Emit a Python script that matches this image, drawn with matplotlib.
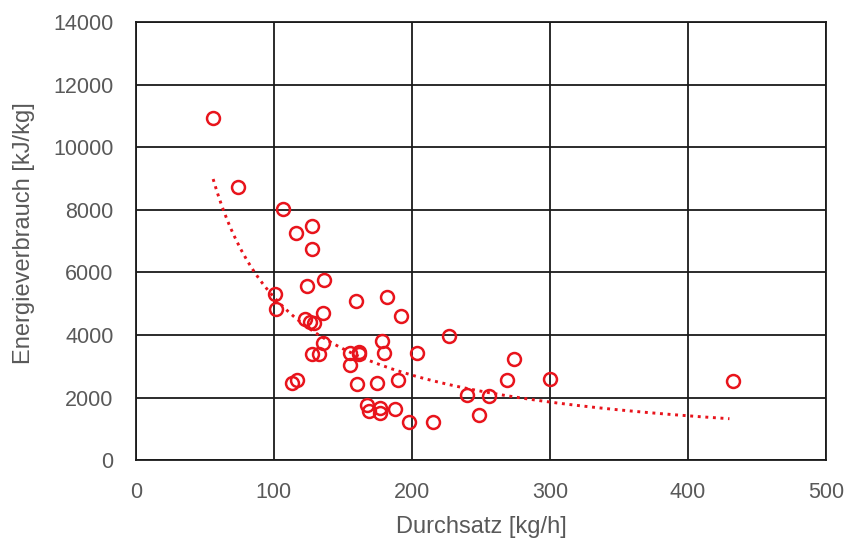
import numpy as np
from matplotlib import pyplot as plt

plt.rcParams['font.family'] = ['Liberation Sans', 'DejaVu Sans']

# Durchsatz [kg/h]
durchsatz = [56.0, 74.1, 106.3, 115.7, 127.8, 127.8, 136.4, 123.7, 100.9, 159.4,
             181.9, 101.4, 135.7, 192.2, 122.5, 126.1, 129.0, 135.5, 178.0, 226.8,
             127.8, 132.6, 155.1, 161.8, 161.4, 179.9, 203.4, 273.7, 155.1, 112.8,
             116.9, 160.4, 174.9, 189.6, 268.6, 239.6, 256.0, 167.2, 168.8, 176.8,
             176.8, 187.9, 197.8, 215.2, 248.8, 300.0, 432.8]
# Energieverbrauch [kJ/kg]
energie = [10930, 8735, 8022, 7255, 7488, 6766, 5775, 5570, 5296, 5091,
           5219, 4826, 4720, 4593, 4497, 4420, 4380, 3749, 3794, 3963,
           3388, 3388, 3429, 3461, 3388, 3429, 3420, 3237, 3036, 2470,
           2557, 2438, 2470, 2557, 2557, 2068, 2036, 1758, 1566, 1652,
           1512, 1620, 1224, 1224, 1448, 2589, 2515]

x = np.array(durchsatz)
y = np.array(energie)

# power trendline y = a * x^b
b, loga = np.polyfit(np.log(x), np.log(y), 1)
xt = np.linspace(x.min(), 430, 200)
yt = np.exp(loga) * xt ** b

fig = plt.figure(figsize=(8.49, 5.42), dpi=100)
ax = fig.add_axes([0.160, 0.151, 0.813, 0.808])

ax.plot(xt, yt, color='#e8141c', linestyle=(0, (1, 1.6)), linewidth=2.1, zorder=3)
ax.plot(x, y, linestyle='none', marker='o', markersize=9.3, markerfacecolor='none',
        markeredgecolor='#e8141c', markeredgewidth=1.8, zorder=4)

ax.set_xlim(0, 500)
ax.set_ylim(0, 14000)
ax.set_xticks(np.arange(0, 501, 100))
ax.set_yticks(np.arange(0, 14001, 2000))
ax.grid(True, color='#1a1a1a', linewidth=1.3)
ax.set_axisbelow(True)
for s in ax.spines.values():
    s.set_color('#1a1a1a')
    s.set_linewidth(1.3)
ax.tick_params(length=0, labelsize=15.5, colors='#595959', pad=16)

ax.set_xlabel('Durchsatz [kg/h]', fontsize=17, color='#595959', labelpad=9)
ax.set_ylabel('Energieverbrauch [kJ/kg]', fontsize=17, color='#595959', labelpad=13)
ax.yaxis.label.set_y(0.518)

fig.savefig('out.png', dpi=100)
